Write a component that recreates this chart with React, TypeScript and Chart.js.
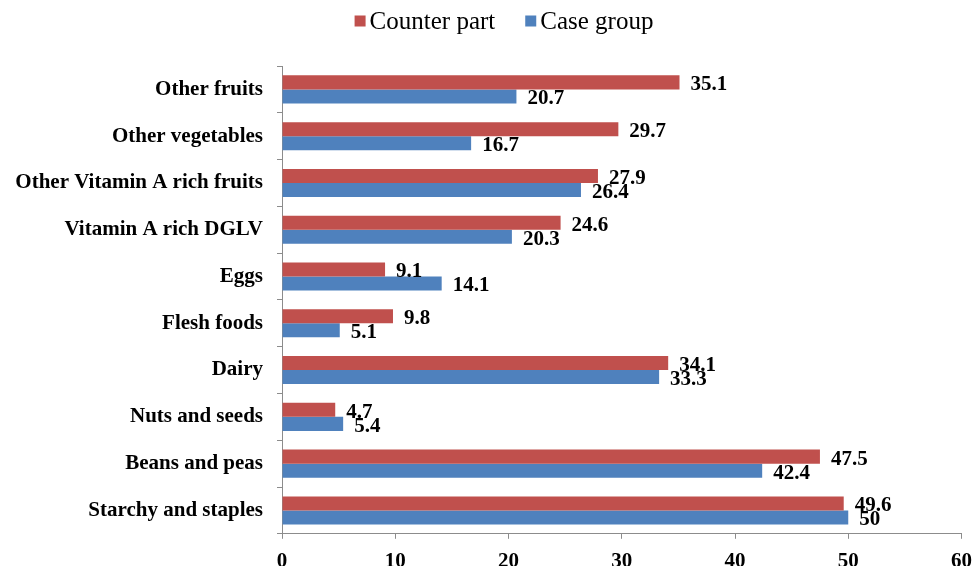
import React, { useEffect, useRef } from "react";
import { Chart, registerables } from "chart.js";

Chart.register(...registerables);

const categories = [
  "Other fruits",
  "Other vegetables",
  "Other Vitamin A rich fruits",
  "Vitamin A rich DGLV",
  "Eggs",
  "Flesh foods",
  "Dairy",
  "Nuts and seeds",
  "Beans and peas",
  "Starchy and staples",
];
const counterPart = [35.1, 29.7, 27.9, 24.6, 9.1, 9.8, 34.1, 4.7, 47.5, 49.6];
const caseGroup = [20.7, 16.7, 26.4, 20.3, 14.1, 5.1, 33.3, 5.4, 42.4, 50];
const xTicks = [0, 10, 20, 30, 40, 50, 60];

const FONT = '"Liberation Serif", "Times New Roman", serif';
const RED = "#C0504D";
const BLUE = "#4F81BD";
const AXIS = "#8C8C8C";

const valueLabels = {
  id: "valueLabels",
  afterDatasetsDraw(chart: any) {
    const ctx = chart.ctx;
    ctx.save();
    ctx.font = `bold 21px ${FONT}`;
    ctx.fillStyle = "#000";
    ctx.textAlign = "left";
    ctx.textBaseline = "middle";
    chart.data.datasets.forEach((ds: any, di: number) => {
      const meta = chart.getDatasetMeta(di);
      meta.data.forEach((bar: any, i: number) => {
        ctx.fillText(String(ds.data[i]), bar.x + 11, bar.y + 2.5);
      });
    });
    ctx.restore();
  },
};

const customLegend = {
  id: "customLegend",
  afterDraw(chart: any) {
    const ctx = chart.ctx;
    ctx.save();
    ctx.font = `25px ${FONT}`;
    ctx.textBaseline = "middle";
    ctx.textAlign = "left";
    const box = 11;
    const gap = 4;
    const itemGap = 30;
    const items = chart.data.datasets.map((ds: any) => ({
      text: ds.label,
      color: ds.backgroundColor,
      w: box + gap + ctx.measureText(ds.label).width,
    }));
    const total = items.reduce((s: number, it: any) => s + it.w, 0) + itemGap * (items.length - 1);
    let x = 496 - total / 2;
    const y = 13;
    items.forEach((it: any) => {
      ctx.fillStyle = it.color;
      ctx.fillRect(x, y - box / 2, box, box);
      ctx.fillStyle = "#000";
      ctx.fillText(it.text, x + box + gap, y + 1);
      x += it.w + itemGap;
    });
    ctx.restore();
  },
};

export default function App() {
  const ref = useRef<HTMLCanvasElement>(null);
  useEffect(() => {
    document.documentElement.style.overflow = "hidden";
    document.body.style.margin = "0";
    const chart = new Chart(ref.current!, {
      type: "bar",
      data: {
        labels: categories,
        datasets: [
          {
            label: "Counter part",
            data: counterPart,
            backgroundColor: RED,
            categoryPercentage: 0.6,
            barPercentage: 1,
          },
          {
            label: "Case group",
            data: caseGroup,
            backgroundColor: BLUE,
            categoryPercentage: 0.6,
            barPercentage: 1,
          },
        ],
      },
      options: {
        indexAxis: "y",
        animation: false,
        responsive: false,
        layout: { padding: { top: 58, left: 0, right: 0, bottom: 0 } },
        plugins: {
          legend: { display: false },
          tooltip: { enabled: false },
        },
        scales: {
          x: {
            min: 0,
            max: 60,
            afterBuildTicks: (scale: any) => {
              scale.ticks = xTicks.map((v) => ({ value: v }));
            },
            grid: {
              drawOnChartArea: false,
              tickLength: 5,
              color: AXIS,
            },
            border: { color: AXIS },
            ticks: {
              color: "#000",
              font: { family: FONT, size: 21, weight: "bold" },
              padding: 10,
              maxRotation: 0,
            },
          },
          y: {
            afterFit: (scale: any) => {
              scale.width = 274;
            },
            grid: {
              drawOnChartArea: false,
              tickLength: 5,
              color: AXIS,
              offset: true,
            },
            border: { color: AXIS },
            ticks: {
              color: "#000",
              font: { family: FONT, size: 21, weight: "bold" },
              padding: 14,
              autoSkip: false,
            },
          },
        },
      },
      plugins: [valueLabels, customLegend],
    });
    return () => chart.destroy();
  }, []);
  return (
    <div style={{ paddingTop: 8, paddingLeft: 8, width: 965, height: 558, overflow: "hidden" }}>
      <canvas ref={ref} width={974} height={576} style={{ display: "block" }} />
    </div>
  );
}
